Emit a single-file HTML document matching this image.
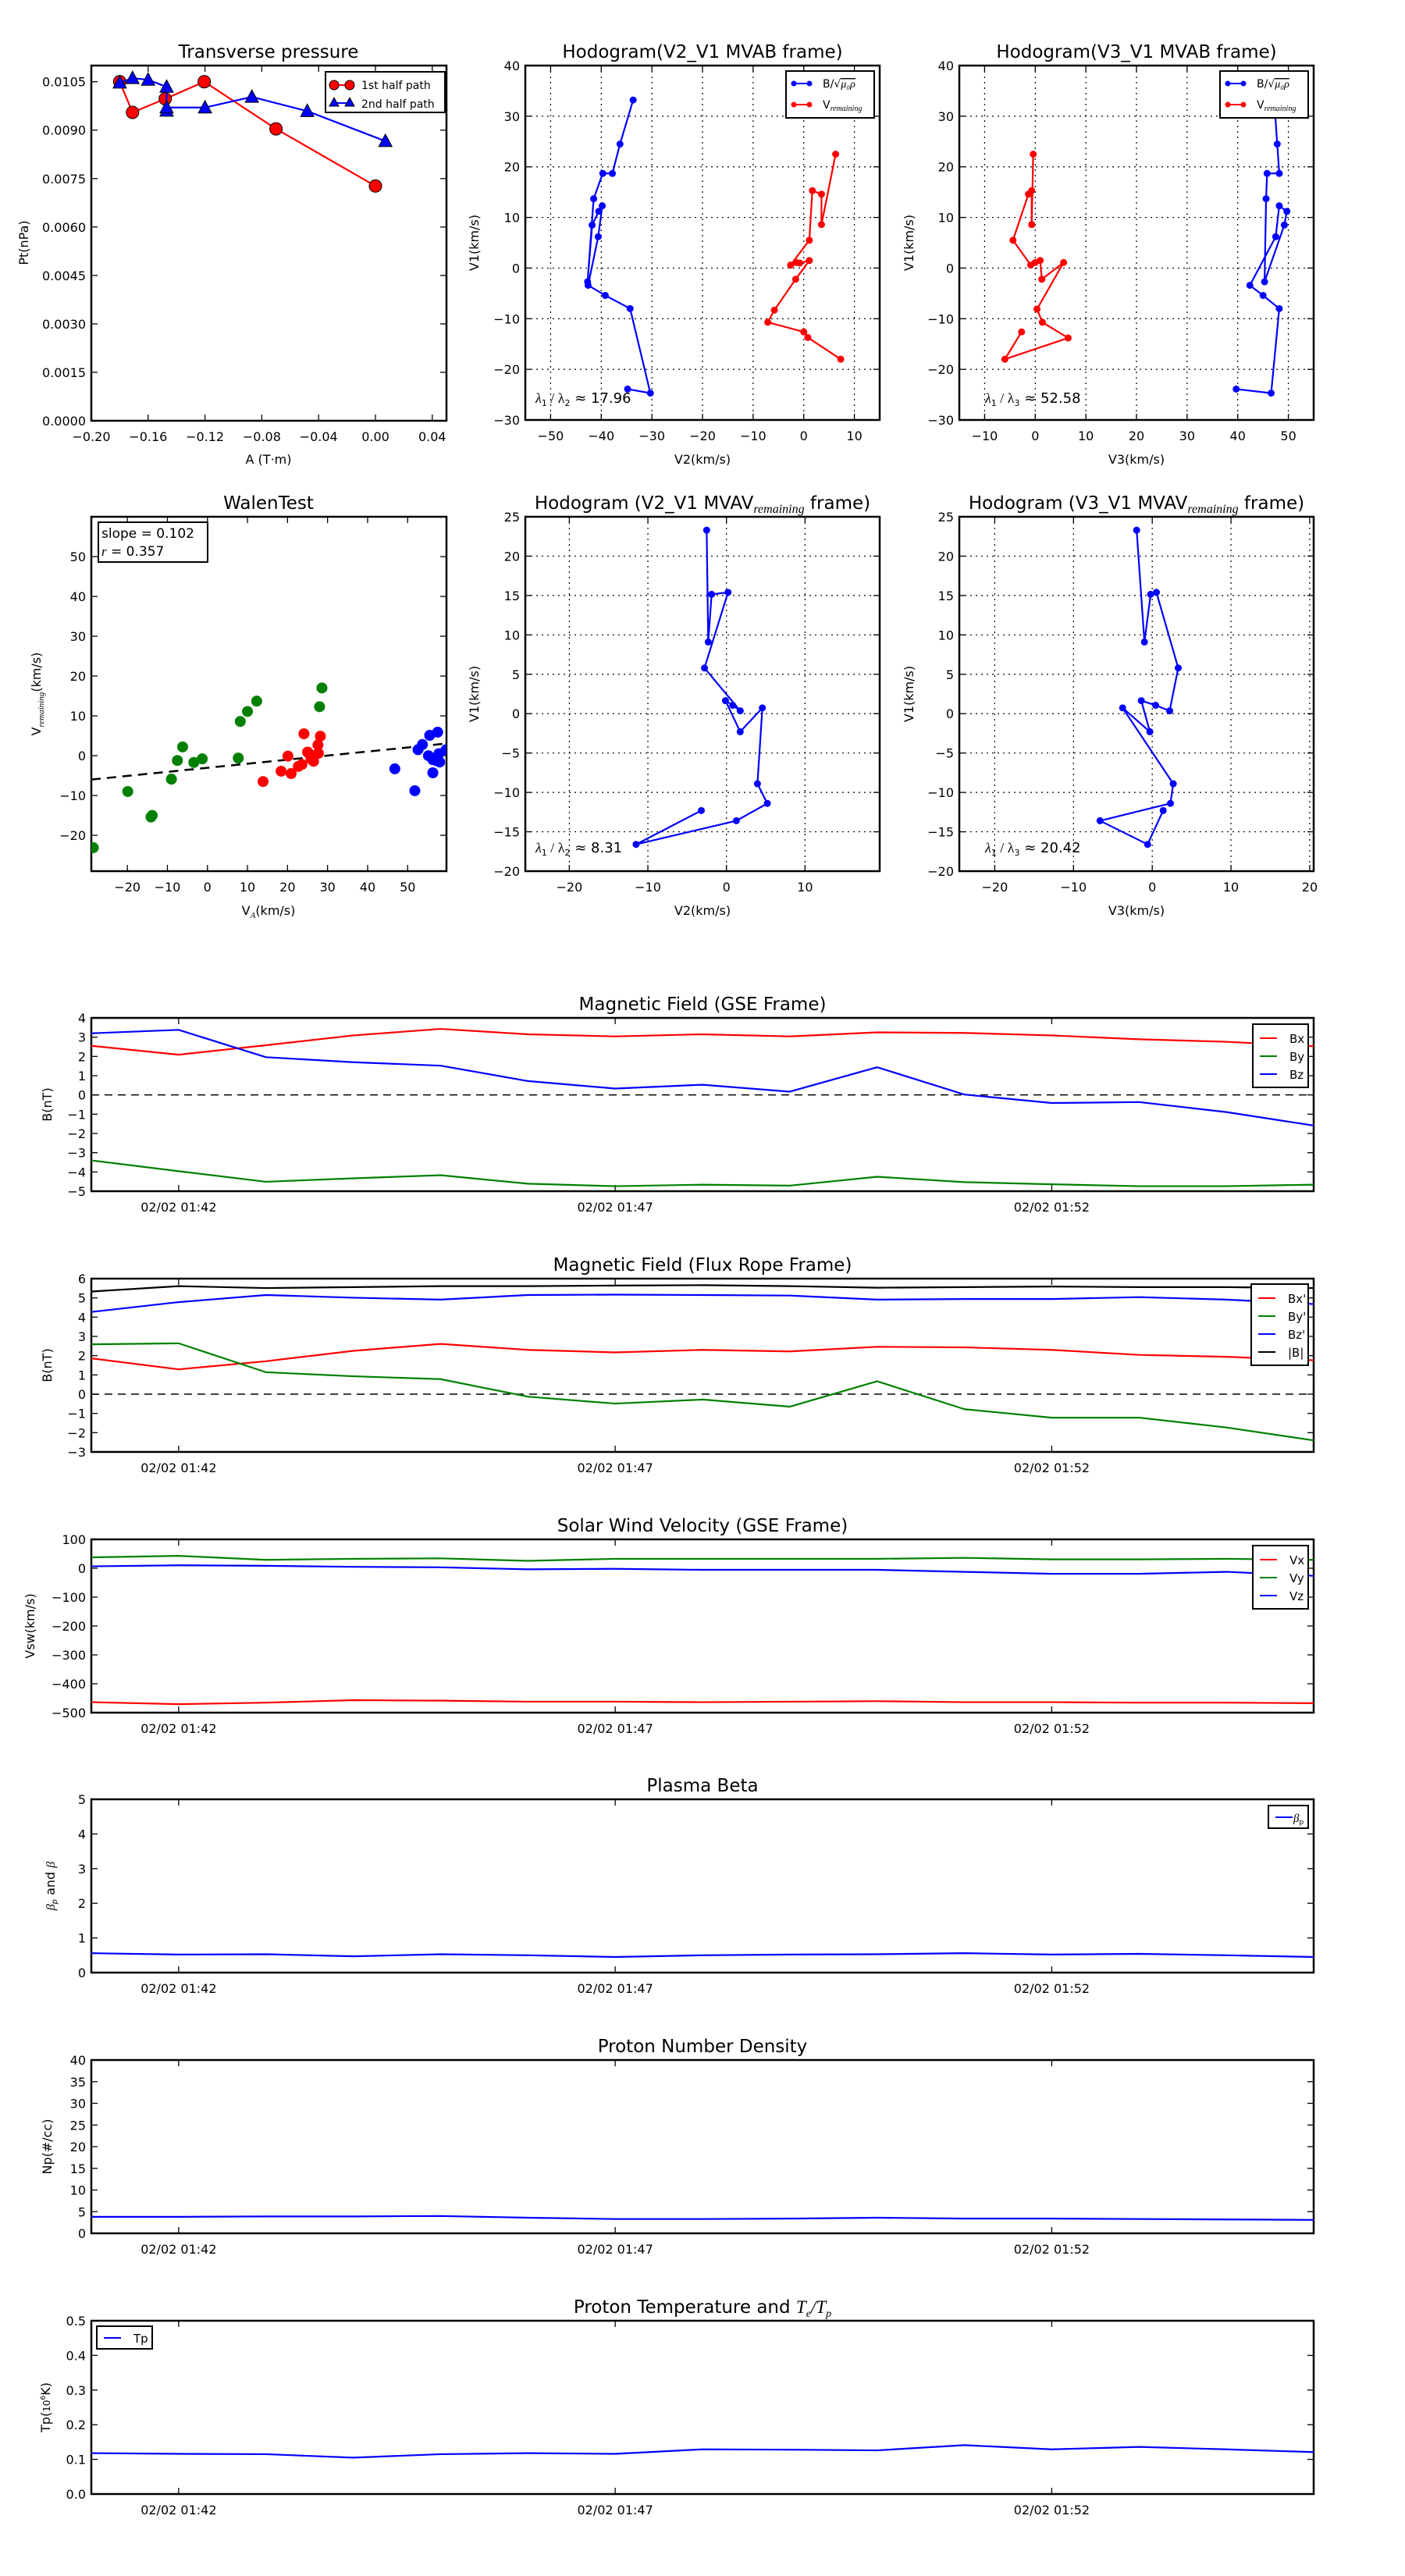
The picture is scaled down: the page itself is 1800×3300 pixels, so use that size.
<!DOCTYPE html>
<html><head><meta charset="utf-8"><title>Flux rope analysis</title>
<style>
html,body{margin:0;padding:0;background:#fff;}
svg{display:block;font-family:"DejaVu Sans","Liberation Sans",sans-serif;}
</style></head>
<body>
<svg id="fig" xmlns="http://www.w3.org/2000/svg" width="1800" height="3300" viewBox="0 0 1800 3300">
<rect x="0" y="0" width="1800" height="3300" fill="#fff"/>
</svg>
<script>
// ---------- data ----------
const ptRedA=[-0.180,-0.171,-0.148,-0.1205,-0.070,0.000];
const ptRedP=[0.0105,0.00955,0.00997,0.0105,0.00904,0.00727];
const ptBlueA=[-0.180,-0.171,-0.160,-0.147,-0.147,-0.147,-0.120,-0.087,-0.048,0.007];
const ptBlueP=[0.01047,0.01061,0.01056,0.01034,0.0096,0.0097,0.0097,0.01003,0.00959,0.00866];
const h1BV2=[-33.7,-36.3,-37.8,-39.7,-41.5,-42.7,-41.8,-40.5,-39.8,-40.6,-42.6,-39.2,-34.3,-30.3,-34.8];
const h1BV1=[33.2,24.5,18.7,18.7,13.7,-2.7,8.5,11.2,12.3,6.2,-3.4,-5.4,-8.0,-24.7,-23.9];
const h1RV2=[6.3,3.5,3.5,1.7,1.1,-2.6,-1.5,-0.8,1.1,-1.6,-5.8,-7.1,0.0,0.8,7.3];
const h1RV1=[22.5,8.6,14.6,15.3,5.5,0.6,1.1,1.0,1.5,-2.2,-8.3,-10.7,-12.6,-13.7,-18.0];
const h2BV3=[47.2,47.8,48.2,45.8,45.6,45.3,49.2,49.7,48.2,47.5,42.4,45.0,48.2,46.6,39.7];
const h2BV1=[33.2,24.5,18.7,18.7,13.7,-2.7,8.5,11.2,12.3,6.2,-3.4,-5.4,-8.0,-24.7,-23.9];
const h2RV3=[-0.4,-0.7,-0.7,-1.35,-4.4,-0.9,0.0,0.97,1.3,5.6,0.35,1.4,6.5,-6.0,-2.7];
const h2RV1=[22.5,8.6,15.3,14.6,5.5,0.6,1.1,1.5,-2.2,1.1,-8.1,-10.7,-13.8,-18.0,-12.6];
const wGreenX=[-28.5,-19.9,-14.1,-13.8,-9.0,-7.5,-6.2,-3.4,-1.3,7.7,8.2,10.0,12.3,28.0,28.6];
const wGreenY=[-23.1,-9.0,-15.4,-15.0,-5.9,-1.2,2.2,-1.7,-0.8,-0.6,8.6,11.1,13.7,12.3,17.0];
const wRedX=[13.9,18.4,20.1,20.9,22.7,23.6,24.1,25.0,25.3,25.9,26.5,27.6,27.7,28.2];
const wRedY=[-6.5,-3.9,-0.1,-4.5,-2.7,-2.2,5.5,0.9,0.6,-0.8,-1.4,2.7,0.6,4.9];
const wBlueX=[46.8,51.8,52.6,53.7,55.5,55.2,56.3,56.3,57.5,57.3,58.0,57.8,59.6,56.8];
const wBlueY=[-3.3,-8.8,1.5,2.8,5.1,0.0,-1.0,-4.3,5.9,-1.3,-1.6,0.5,1.5,-0.7];
const wSlope=0.102, wIntercept=-3.04;
const h3V2=[-2.52,-2.32,-1.89,0.2,-2.8,1.75,0.8,-0.13,1.75,4.57,3.94,5.2,1.26,-11.5,-3.2];
const h3V1=[23.3,9.1,15.15,15.4,5.8,0.36,1.06,1.65,-2.3,0.73,-8.9,-11.4,-13.6,-16.6,-12.3];
const h4V3=[-1.98,-0.99,-0.2,0.53,3.3,2.21,0.43,-1.39,-0.3,-3.76,2.67,2.31,-6.63,-0.59,1.39];
const h4V1=[23.3,9.1,15.15,15.4,5.8,0.36,1.06,1.65,-2.3,0.73,-8.9,-11.4,-13.6,-16.6,-12.3];
const times=['01:41','01:42','01:43','01:44','01:45','01:46','01:47','01:48','01:49','01:50','01:51','01:52','01:53','01:54','01:55'];
const timeTicks=['02/02 01:42','02/02 01:47','02/02 01:52'];
const gseBx=[2.55,2.09,2.58,3.09,3.43,3.15,3.04,3.15,3.04,3.25,3.22,3.09,2.89,2.76,2.53];
const gseBy=[-3.4,-3.96,-4.51,-4.33,-4.17,-4.61,-4.74,-4.66,-4.71,-4.25,-4.53,-4.64,-4.74,-4.74,-4.66];
const gseBz=[3.2,3.38,1.96,1.7,1.52,0.72,0.33,0.53,0.17,1.44,0.02,-0.42,-0.37,-0.89,-1.59];
const frBx=[1.86,1.29,1.71,2.25,2.61,2.30,2.17,2.30,2.22,2.46,2.43,2.30,2.04,1.94,1.76];
const frBy=[2.59,2.64,1.14,0.93,0.78,-0.13,-0.49,-0.28,-0.65,0.67,-0.78,-1.22,-1.22,-1.73,-2.4];
const frBz=[4.27,4.78,5.15,5.01,4.91,5.15,5.17,5.15,5.12,4.91,4.94,4.94,5.04,4.91,4.68];
const frBt=[5.33,5.61,5.51,5.56,5.61,5.61,5.64,5.66,5.61,5.53,5.56,5.59,5.56,5.56,5.51];
const vx=[-463.7,-470.6,-465.4,-456.8,-458.5,-462,-462,-463.7,-462,-460.3,-463.7,-463.7,-465.4,-465.4,-467.2];
const vy=[37.7,42.9,29.1,32.6,34.3,25.6,32.6,32.6,32.6,32.6,36,30.8,30.8,32.6,29.1];
const vz=[6.6,10.1,8.4,4.9,3.2,-3.8,-2,-5.5,-5.5,-5.5,-12.4,-19.3,-19.3,-12.4,-26.2];
const betaP=[0.56,0.52,0.53,0.47,0.53,0.50,0.45,0.50,0.52,0.53,0.56,0.52,0.54,0.50,0.45];
const np=[3.8,3.8,3.9,3.9,4.0,3.6,3.3,3.3,3.4,3.6,3.4,3.4,3.3,3.2,3.1];
const tp=[0.118,0.116,0.115,0.105,0.115,0.118,0.116,0.129,0.128,0.126,0.141,0.129,0.136,0.129,0.121];

// ---------- helpers ----------
const NS='http://www.w3.org/2000/svg';
const svg=document.getElementById('fig');
function mk(tag,attrs,parent){const e=document.createElementNS(NS,tag);for(const k in attrs)e.setAttribute(k,attrs[k]);(parent||svg).appendChild(e);return e;}
function fmt(v,d){const s=Math.abs(v).toFixed(d);return (v<-1e-12?'\u2212':'')+s;}
function lin(d0,d1,r0,r1){return v=>r0+(v-d0)/(d1-d0)*(r1-r0);}
function minutes(t){const p=t.split(':');return (+p[0])*60+(+p[1]);}

function axes(o){
  const g=mk('g',{});
  
  
  const sx=lin(o.xmin,o.xmax,o.x,o.x+o.w), sy=lin(o.ymin,o.ymax,o.y+o.h,o.y);
  if(o.grid){
    o.xt.forEach(v=>{const l=mk('line',{x1:sx(v),x2:sx(v),y1:o.y,y2:o.y+o.h,stroke:'#000','stroke-width':1.2,'stroke-dasharray':'2,5'},g);
      
      });
    o.yt.forEach(v=>{const l=mk('line',{x1:o.x,x2:o.x+o.w,y1:sy(v),y2:sy(v),stroke:'#000','stroke-width':1.2,'stroke-dasharray':'2,5'},g);
      
      });
  }
  o.xt.forEach((v,i)=>{const X=sx(v);
    const t1=mk('line',{x1:X,x2:X,y1:o.y+o.h,y2:o.y+o.h-8,stroke:'#000','stroke-width':1.3},g);
    
    
    const t2=mk('line',{x1:X,x2:X,y1:o.y,y2:o.y+8,stroke:'#000','stroke-width':1.3},g);
    
    
    const lb=mk('text',{x:X,y:o.y+o.h+26,'text-anchor':'middle','font-size':16,fill:'#000'},g);
    lb.textContent=o.xl?o.xl[i]:fmt(v,o.xd||0);
    
    });
  o.yt.forEach(v=>{const Y=sy(v);
    const t1=mk('line',{x1:o.x,x2:o.x+8,y1:Y,y2:Y,stroke:'#000','stroke-width':1.3},g);
    
    
    const t2=mk('line',{x1:o.x+o.w,x2:o.x+o.w-8,y1:Y,y2:Y,stroke:'#000','stroke-width':1.3},g);
    
    
    const lb=mk('text',{x:o.x-7,y:Y+6,'text-anchor':'end','font-size':16,fill:'#000'},g);
    lb.textContent=fmt(v,o.yd||0);
    
    });
  const fr=mk('rect',{x:o.x,y:o.y,width:o.w,height:o.h,fill:'none',stroke:'#000','stroke-width':2.5});
  
  
  o.sx=sx;o.sy=sy;o.g=g;
  return o;
}
function clipFor(o,id){
  const cp=mk('clipPath',{id:id});
  mk('rect',{x:o.x,y:o.y,width:o.w,height:o.h},cp);
  return 'url(#'+id+')';
}
function poly(o,xs,ys,color,w,clip){
  const pts=xs.map((x,i)=>o.sx(x)+','+o.sy(ys[i])).join(' ');
  return mk('polyline',{points:pts,fill:'none',stroke:color,'stroke-width':w||2.2,'stroke-linejoin':'round','clip-path':clip||''});
}
function range(a,b,s){const r=[];for(let v=a;v<=b+1e-9;v+=s)r.push(Math.round(v*1e6)/1e6);return r;}
function title(x,y,txt,name){const t=mk('text',{x:x,y:y,'text-anchor':'middle','font-size':23,fill:'#000'});t.textContent=txt;
  
  return t;}
function label(x,y,txt,rot,name,size){const t=mk('text',{x:x,y:y,'text-anchor':'middle','font-size':size||16,fill:'#000',transform:rot?'rotate(-90 '+x+' '+y+')':''});t.textContent=txt;
  
  return t;}

// ---------- Transverse pressure ----------
const p1=axes({name:'transverse-pressure-axes',x:117,y:84,w:455,h:455,xmin:-0.2,xmax:0.05,ymin:0,ymax:0.011,xt:range(-0.2,0.04,0.04),yt:range(0,0.0105,0.0015),xd:2,yd:4});
title(344,74,'Transverse pressure','transverse-pressure-title');
label(344,594,'A (T\u00b7m)',false,'transverse-pressure-x-label');
label(36,311,'Pt(nPa)',true,'transverse-pressure-y-label');
{const l=poly(p1,ptRedA,ptRedP,'#f00',2.2);


ptRedA.forEach((a,i)=>{const c=mk('circle',{cx:p1.sx(a),cy:p1.sy(ptRedP[i]),r:8,fill:'#f00',stroke:'#000','stroke-width':1});

});
const l2=poly(p1,ptBlueA,ptBlueP,'#00f',2.2);


ptBlueA.forEach((a,i)=>{const X=p1.sx(a),Y=p1.sy(ptBlueP[i]);const c=mk('polygon',{points:`${X},${Y-9} ${X-8.5},${Y+7} ${X+8.5},${Y+7}`,fill:'#00f',stroke:'#000','stroke-width':1});

});
const lg=mk('g',{});


mk('rect',{x:417,y:92,width:153,height:52,fill:'#fff',stroke:'#000','stroke-width':2},lg);
mk('line',{x1:428,x2:448,y1:109,y2:109,stroke:'#f00','stroke-width':2},lg);
mk('circle',{cx:428,cy:109,r:6,fill:'#f00',stroke:'#000'},lg);mk('circle',{cx:448,cy:109,r:6,fill:'#f00',stroke:'#000'},lg);
mk('line',{x1:428,x2:448,y1:132,y2:132,stroke:'#00f','stroke-width':2},lg);
mk('polygon',{points:'428,125 422,136 434,136',fill:'#00f',stroke:'#000'},lg);mk('polygon',{points:'448,125 442,136 454,136',fill:'#00f',stroke:'#000'},lg);
const t1=mk('text',{x:463,y:114,'font-size':14},lg);t1.textContent='1st half path';
const t2=mk('text',{x:463,y:138,'font-size':14},lg);t2.textContent='2nd half path';}

// ---------- hodogram helper ----------
function hodo(o,xs,ys,color,name){
  const cl=clipFor(o,name+'-clip');
  const l=poly(o,xs,ys,color,2.2,cl);
  
  
  xs.forEach((x,i)=>{const c=mk('circle',{cx:o.sx(x),cy:o.sy(ys[i]),r:4.5,fill:color,'clip-path':cl});
    
    });
}
function hodoLegend(x,y,name){
  const g=mk('g',{});
  
  
  mk('rect',{x:x,y:y,width:113,height:60,fill:'#fff',stroke:'#000','stroke-width':2},g);
  mk('line',{x1:x+10,x2:x+30,y1:y+16,y2:y+16,stroke:'#00f','stroke-width':2},g);
  mk('circle',{cx:x+10,cy:y+16,r:3.5,fill:'#00f'},g);mk('circle',{cx:x+30,cy:y+16,r:3.5,fill:'#00f'},g);
  mk('line',{x1:x+10,x2:x+30,y1:y+43,y2:y+43,stroke:'#f00','stroke-width':2},g);
  mk('circle',{cx:x+10,cy:y+43,r:3.5,fill:'#f00'},g);mk('circle',{cx:x+30,cy:y+43,r:3.5,fill:'#f00'},g);
  const t=mk('text',{x:x+47,y:y+21,'font-size':14},g);
  t.innerHTML='B/\u221A<tspan font-family="Liberation Serif, serif" font-style="italic" text-decoration="overline">\u03BC\u2080\u03C1</tspan>';
  const t2=mk('text',{x:x+47,y:y+48,'font-size':14},g);
  t2.innerHTML='V<tspan font-family="Liberation Serif, serif" font-style="italic" font-size="10" dy="3">remaining</tspan>';
}
function lamText(x,y,a,b,val,name){
  const t=mk('text',{x:x,y:y,'font-size':18});
  t.innerHTML='<tspan font-family="Liberation Serif, serif" font-style="italic">\u03BB</tspan><tspan font-size="11" dy="4">1</tspan><tspan dy="-4" font-family="Liberation Serif, serif"> / \u03BB</tspan><tspan font-size="11" dy="4">'+b+'</tspan><tspan dy="-4"> \u2248 '+val+'</tspan>';
  
  
}

const p2=axes({name:'hodogram-v2-v1-mvab-axes',x:673,y:84,w:454,h:454,xmin:-55,xmax:15,ymin:-30,ymax:40,xt:range(-50,10,10),yt:range(-30,40,10),grid:true});
title(900,74,'Hodogram(V2_V1 MVAB frame)','hodogram-v2-v1-mvab-title');
label(900,594,'V2(km/s)',false,'hodogram-v2-v1-mvab-x-label');
label(613,311,'V1(km/s)',true,'hodogram-v2-v1-mvab-y-label');
hodo(p2,h1BV2,h1BV1,'#00f','alfven-b-v2');
hodo(p2,h1RV2,h1RV1,'#f00','v-remaining-v2');
hodoLegend(1007,91,'hodogram-v2-v1-mvab-legend');
lamText(686,516,1,2,'17.96','lambda-ratio-12-mvab');

const p3=axes({name:'hodogram-v3-v1-mvab-axes',x:1229,y:84,w:454,h:454,xmin:-15,xmax:55,ymin:-30,ymax:40,xt:range(-10,50,10),yt:range(-30,40,10),grid:true});
title(1456,74,'Hodogram(V3_V1 MVAB frame)','hodogram-v3-v1-mvab-title');
label(1456,594,'V3(km/s)',false,'hodogram-v3-v1-mvab-x-label');
label(1170,311,'V1(km/s)',true,'hodogram-v3-v1-mvab-y-label');
hodo(p3,h2BV3,h2BV1,'#00f','alfven-b-v3');
hodo(p3,h2RV3,h2RV1,'#f00','v-remaining-v3');
hodoLegend(1563,91,'hodogram-v3-v1-mvab-legend');
lamText(1262,516,1,3,'52.58','lambda-ratio-13-mvab');

// ---------- Walen test ----------
const p4=axes({name:'walen-test-axes',x:117,y:662,w:455,h:454,xmin:-29,xmax:59.7,ymin:-29,ymax:60,xt:range(-20,50,10),yt:range(-20,50,10)});
title(344,652,'WalenTest','walen-test-title');
{const t=mk('text',{x:344,y:1172,'text-anchor':'middle','font-size':16});t.innerHTML='V<tspan font-family="Liberation Serif, serif" font-style="italic" font-size="11" dy="4">A</tspan><tspan dy="-4">(km/s)</tspan>';


const t2=mk('text',{x:52,y:889,'text-anchor':'middle','font-size':16,transform:'rotate(-90 52 889)'});t2.innerHTML='V<tspan font-family="Liberation Serif, serif" font-style="italic" font-size="11" dy="4">remaining</tspan><tspan dy="-4">(km/s)</tspan>';

}
{const cl=clipFor(p4,'walen-clip');
const fx=[-29,59.7];
const fl=mk('line',{x1:p4.sx(fx[0]),y1:p4.sy(wSlope*fx[0]+wIntercept),x2:p4.sx(fx[1]),y2:p4.sy(wSlope*fx[1]+wIntercept),stroke:'#000','stroke-width':2.5,'stroke-dasharray':'12,8','clip-path':cl});


[[wGreenX,wGreenY,'#008000','walen-point-green'],[wRedX,wRedY,'#f00','walen-point-red'],[wBlueX,wBlueY,'#00f','walen-point-blue']].forEach(s=>{
  s[0].forEach((x,i)=>{const c=mk('circle',{cx:p4.sx(x),cy:p4.sy(s[1][i]),r:7,fill:s[2],'clip-path':cl});
    
    });
});
const bx=mk('g',{});


mk('rect',{x:126,y:669,width:140,height:51,fill:'#fff',stroke:'#000','stroke-width':2},bx);
const s1=mk('text',{x:130,y:689,'font-size':17},bx);s1.textContent='slope = 0.102';
const s2=mk('text',{x:130,y:712,'font-size':17},bx);s2.innerHTML='<tspan font-family="Liberation Serif, serif" font-style="italic">r</tspan> = 0.357';}

const p5=axes({name:'hodogram-v2-v1-mvav-axes',x:673,y:662,w:454,h:454,xmin:-25.6,xmax:19.5,ymin:-20,ymax:25,xt:range(-20,10,10),yt:range(-20,25,5),grid:true});
{const t=mk('text',{x:900,y:652,'text-anchor':'middle','font-size':23});t.innerHTML='Hodogram (V2_V1 MVAV<tspan font-family="Liberation Serif, serif" font-style="italic" font-size="16" dy="5">remaining</tspan><tspan dy="-5"> frame)</tspan>';

}
label(900,1172,'V2(km/s)',false,'hodogram-v2-v1-mvav-x-label');
label(613,889,'V1(km/s)',true,'hodogram-v2-v1-mvav-y-label');
hodo(p5,h3V2,h3V1,'#00f','mvav-v2');
lamText(686,1092,1,2,'8.31','lambda-ratio-12-mvav');

const p6=axes({name:'hodogram-v3-v1-mvav-axes',x:1229,y:662,w:454,h:454,xmin:-24.5,xmax:20.5,ymin:-20,ymax:25,xt:range(-20,20,10),yt:range(-20,25,5),grid:true});
{const t=mk('text',{x:1456,y:652,'text-anchor':'middle','font-size':23});t.innerHTML='Hodogram (V3_V1 MVAV<tspan font-family="Liberation Serif, serif" font-style="italic" font-size="16" dy="5">remaining</tspan><tspan dy="-5"> frame)</tspan>';

}
label(1456,1172,'V3(km/s)',false,'hodogram-v3-v1-mvav-x-label');
label(1170,889,'V1(km/s)',true,'hodogram-v3-v1-mvav-y-label');
hodo(p6,h4V3,h4V1,'#00f','mvav-v3');
lamText(1262,1092,1,3,'20.42','lambda-ratio-13-mvav');

// ---------- time series ----------
const t0=minutes(times[0]), t1=minutes(times[times.length-1]);
const tx=times.map(minutes);
const tickMin=timeTicks.map(s=>minutes(s.split(' ')[1]));
function tsPanel(name,top,ymin,ymax,step,yd){
  return axes({name:name+'-axes',x:117,y:top,w:1566,h:222,xmin:t0,xmax:t1,ymin:ymin,ymax:ymax,xt:tickMin,xl:timeTicks,yt:range(ymin,ymax,step),yd:yd});
}
function tsLegend(x,y,w,entries,name,textOff){
  const g=mk('g',{});
  
  
  const h=entries.length*23+6+(entries.length>1?6:0);
  const to=textOff||47;
  mk('rect',{x:x,y:y,width:w,height:h,fill:'#fff',stroke:'#000','stroke-width':2},g);
  entries.forEach((e,i)=>{const yy=y+15+(entries.length>1?3:0)+i*23;
    mk('line',{x1:x+9,x2:x+(to>30?31:25),y1:yy,y2:yy,stroke:e[1],'stroke-width':2},g);
    const t=mk('text',{x:x+to,y:yy+6,'font-size':15},g);t.innerHTML=e[0];});
}
function tsLine(o,ys,color,name){
  const l=poly(o,tx,ys,color,2.2);
  
  
}
function zeroLine(o,name){
  const l=mk('line',{x1:o.x,x2:o.x+o.w,y1:o.sy(0),y2:o.sy(0),stroke:'#000','stroke-width':1.5,'stroke-dasharray':'10,7'});
  
  
}

const g1=tsPanel('mag-field-gse',1304,-5,4,1,0);
title(900,1294,'Magnetic Field (GSE Frame)','mag-field-gse-title');
label(66,1415,'B(nT)',true,'mag-field-gse-y-label');
zeroLine(g1,'mag-field-gse-zero-line');
tsLine(g1,gseBx,'#f00','gse-bx-line');
tsLine(g1,gseBy,'#008000','gse-by-line');
tsLine(g1,gseBz,'#00f','gse-bz-line');
tsLegend(1605,1312,71,[['Bx','#f00'],['By','#008000'],['Bz','#00f']],'mag-field-gse-legend');

const g2=tsPanel('mag-field-flux-rope',1638,-3,6,1,0);
title(900,1628,'Magnetic Field (Flux Rope Frame)','mag-field-flux-rope-title');
label(66,1749,'B(nT)',true,'mag-field-flux-rope-y-label');
zeroLine(g2,'mag-field-flux-rope-zero-line');
tsLine(g2,frBx,'#f00','fr-bx-line');
tsLine(g2,frBy,'#008000','fr-by-line');
tsLine(g2,frBz,'#00f','fr-bz-line');
tsLine(g2,frBt,'#000','fr-btotal-line');
tsLegend(1603,1645,73,[["Bx'",'#f00'],["By'",'#008000'],["Bz'",'#00f'],['|B|','#000']],'mag-field-flux-rope-legend');

const g3=tsPanel('solar-wind-velocity',1972,-500,100,100,0);
title(900,1962,'Solar Wind Velocity (GSE Frame)','solar-wind-velocity-title');
label(44,2083,'Vsw(km/s)',true,'solar-wind-velocity-y-label');
tsLine(g3,vx,'#f00','vx-line');
tsLine(g3,vy,'#008000','vy-line');
tsLine(g3,vz,'#00f','vz-line');
tsLegend(1605,1980,71,[['Vx','#f00'],['Vy','#008000'],['Vz','#00f']],'solar-wind-velocity-legend');

const g4=tsPanel('plasma-beta',2305,0,5,1,0);
title(900,2295,'Plasma Beta','plasma-beta-title');
{const t=mk('text',{x:70,y:2416,'text-anchor':'middle','font-size':16,transform:'rotate(-90 70 2416)'});t.innerHTML='<tspan font-family="Liberation Serif, serif" font-style="italic">\u03B2</tspan><tspan font-size="10" font-style="italic" dy="3">p</tspan><tspan dy="-3"> and </tspan><tspan font-family="Liberation Serif, serif" font-style="italic">\u03B2</tspan>';

}
tsLine(g4,betaP,'#00f','beta-p-line');
tsLegend(1625,2313,51,[['<tspan font-family="Liberation Serif, serif" font-style="italic">\u03B2</tspan><tspan font-size="9" dy="3">p</tspan>','#00f']],'plasma-beta-legend',32);

const g5=tsPanel('proton-density',2639,0,40,5,0);
title(900,2629,'Proton Number Density','proton-density-title');
label(66,2750,'Np(#/cc)',true,'proton-density-y-label');
tsLine(g5,np,'#00f','np-line');

const g6=tsPanel('proton-temperature',2973,0,0.5,0.1,1);
{const t=mk('text',{x:900,y:2963,'text-anchor':'middle','font-size':23});t.innerHTML='Proton Temperature and <tspan font-family="Liberation Serif, serif" font-style="italic">T</tspan><tspan font-family="Liberation Serif, serif" font-style="italic" font-size="14" dy="5">e</tspan><tspan dy="-5" font-family="Liberation Serif, serif" font-style="italic">/T</tspan><tspan font-family="Liberation Serif, serif" font-style="italic" font-size="14" dy="5">p</tspan>';

}
{const t=mk('text',{x:64,y:3084,'text-anchor':'middle','font-size':16,transform:'rotate(-90 64 3084)'});t.innerHTML='Tp(<tspan font-size="12">10</tspan><tspan font-size="9" dy="-6">6</tspan><tspan dy="6">K)</tspan>';

}
tsLine(g6,tp,'#00f','tp-line');
tsLegend(124,2980,71,[['Tp','#00f']],'proton-temperature-legend');
</script>
</body></html>
